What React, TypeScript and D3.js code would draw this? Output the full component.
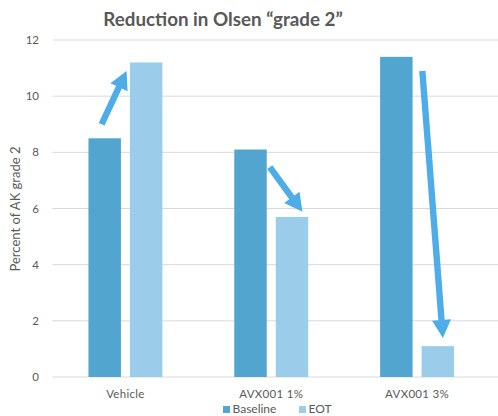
import React from 'react';
import { scaleLinear, scaleBand, range } from 'd3';

const categories = ['Vehicle', 'AVX001 1%', 'AVX001 3%'];
const series = ['Baseline', 'EOT'];
const baseline = [8.5, 8.1, 11.4];
const eot = [11.2, 5.7, 1.1];
const yTicks = [0, 2, 4, 6, 8, 10, 12];

// arrows: category index, tail/tip position inside band (fraction), tail/tip value
const arrowCat = [0, 1, 2];
const arrowFrom = [[0.337, 9.0], [0.49, 7.47], [0.536, 10.9]];
const arrowTo = [[0.508, 10.9], [0.714, 5.88], [0.677, 1.39]];

const colors = ['#52a5ce', '#9bcdeb'];
const arrowColor = '#4eade8';
const textColor = '#595959';
const font = 'Lato, "Open Sans", sans-serif';

const W = 498;
const H = 416;
const dims = { left: 52.5, right: 490, top: 40, bottom: 377 };

const App: React.FC = () => {
  const x = scaleBand<string>()
    .domain(categories)
    .range([dims.left, dims.right])
    .paddingInner(0)
    .paddingOuter(0);

  const x1 = scaleBand<string>()
    .domain(series)
    .range([0, x.bandwidth()])
    .paddingInner(0.217)
    .paddingOuter(0.867);

  const y = scaleLinear().domain([0, 12]).range([dims.bottom, dims.top]);

  const values = [baseline, eot];

  const arrowPath = (i: number) => {
    const bx = x(categories[arrowCat[i]])!;
    const bw = x.bandwidth();
    const x0 = bx + arrowFrom[i][0] * bw;
    const y0 = y(arrowFrom[i][1]);
    const xt = bx + arrowTo[i][0] * bw;
    const yt = y(arrowTo[i][1]);
    const dx = xt - x0;
    const dy = yt - y0;
    const len = Math.sqrt(dx * dx + dy * dy);
    const ux = dx / len, uy = dy / len;
    const px = -uy, py = ux;
    const sw = 3.2, hw = 9.5, hl = 18;
    const hx = xt - ux * hl, hy = yt - uy * hl;
    const pts = [
      [x0 + px * sw, y0 + py * sw],
      [hx + px * sw, hy + py * sw],
      [hx + px * hw, hy + py * hw],
      [xt, yt],
      [hx - px * hw, hy - py * hw],
      [hx - px * sw, hy - py * sw],
      [x0 - px * sw, y0 - py * sw],
    ];
    return 'M' + pts.map(p => p.join(',')).join('L') + 'Z';
  };

  return (
    <svg width={W} height={H} style={{ position: 'absolute', left: 0, top: 0 }} fontFamily={font}>
      <rect width={W} height={H} fill="#fff" />
      <text x={223} y={26} textAnchor="middle" fontSize={18.8} fontWeight="bold" fill={textColor}>
        Reduction in Olsen “grade 2”
      </text>

      {yTicks.map(t => (
        <g key={t}>
          <line x1={dims.left} x2={W} y1={y(t)} y2={y(t)} stroke="#d9d9d9" strokeWidth={1} />
          <text x={39} y={y(t)} dy="0.35em" textAnchor="end" fontSize={11.5} fill={textColor}>{t}</text>
        </g>
      ))}

      <text transform="translate(15,209) rotate(-90)" textAnchor="middle" dy="0.35em" fontSize={13} fill={textColor}>
        Percent of AK grade 2
      </text>

      {categories.map((c, ci) => (
        <g key={c} transform={`translate(${x(c)},0)`}>
          {series.map((s, si) => (
            <rect
              key={s}
              x={x1(s)}
              width={x1.bandwidth()}
              y={y(values[si][ci])}
              height={y(0) - y(values[si][ci])}
              fill={colors[si]}
            />
          ))}
          <text x={x.bandwidth() / 2} y={398} textAnchor="middle" fontSize={11.5} fill={textColor} letterSpacing={0.3}>{c}</text>
        </g>
      ))}

      {range(arrowCat.length).map(i => (
        <path key={i} d={arrowPath(i)} fill={arrowColor} />
      ))}

      {series.map((s, si) => {
        const lx = si === 0 ? 223 : 299;
        return (
          <g key={s}>
            <rect x={lx} y={406} width={7} height={7} fill={colors[si]} />
            <text x={lx + 9.5} y={413} fontSize={12} fill={textColor}>{s}</text>
          </g>
        );
      })}
    </svg>
  );
};

export default App;
